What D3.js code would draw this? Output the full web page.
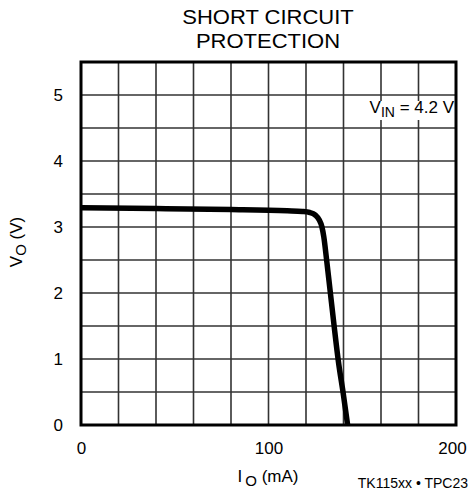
<!DOCTYPE html>
<html><head><meta charset="utf-8">
<script src="https://cdn.jsdelivr.net/npm/d3@7"></script>
<style>
html,body{margin:0;padding:0;background:#fff;}
text{font-family:"Liberation Sans",Arial,sans-serif;fill:#000;}
</style></head>
<body>
<svg id="chart" width="474" height="491"></svg>
<script>
const titleLines = ["SHORT CIRCUIT", "PROTECTION"];
const xTicks = [0, 100, 200];
const yTicks = [0, 1, 2, 3, 4, 5];
const xGrid = [20, 40, 60, 80, 100, 120, 140, 160, 180];
const yGrid = [0.5, 1, 1.5, 2, 2.5, 3, 3.5, 4, 4.5, 5];
const currentMA = [0, 40, 80, 110, 118, 122, 125, 127, 128.5, 129.5, 131, 133, 135, 137.2, 140, 142.2];
const voltageV = [3.29, 3.28, 3.265, 3.245, 3.235, 3.22, 3.18, 3.11, 3.0, 2.85, 2.5, 2.0, 1.5, 0.98, 0.45, 0];
const annotation = {main: "V", sub: "IN", rest: " = 4.2 V", x: 200, y: 5};
const footer = "TK115xx \u2022 TPC23";

const svg = d3.select("#chart");
const L = 81, R = 456, T = 62, B = 425;
const x = d3.scaleLinear().domain([0, 200]).range([L, R]);
const y = d3.scaleLinear().domain([0, 5.5]).range([B, T]);

// grid
svg.append("g").selectAll("line").data(xGrid).join("line")
  .attr("x1", d => x(d)).attr("x2", d => x(d)).attr("y1", T).attr("y2", B)
  .attr("stroke", "#333").attr("stroke-width", 1.6);
svg.append("g").selectAll("line").data(yGrid).join("line")
  .attr("x1", L).attr("x2", R).attr("y1", d => y(d)).attr("y2", d => y(d))
  .attr("stroke", "#333").attr("stroke-width", 1.6);

// annotation with white background (sits just below the 5 V grid line)
const ann = svg.append("text").attr("x", x(annotation.x) - 2).attr("y", y(annotation.y) + 18)
  .attr("text-anchor", "end").style("font-size", "17px");
ann.append("tspan").text(annotation.main);
ann.append("tspan").attr("dy", 4).style("font-size", "14px").text(annotation.sub);
ann.append("tspan").attr("dy", -4).text(annotation.rest);
const bb = ann.node().getBBox();
svg.insert("rect", "text").attr("x", bb.x - 1).attr("y", bb.y + 3).attr("width", bb.width + 1).attr("height", bb.height - 3).attr("fill", "#fff");

// curve
const line = d3.line().x((d, i) => x(currentMA[i])).y(d => y(d)).curve(d3.curveMonotoneX);
svg.append("path").datum(voltageV).attr("d", line)
  .attr("fill", "none").attr("stroke", "#000").attr("stroke-width", 5.5).attr("stroke-linejoin", "round");

// border
svg.append("rect").attr("x", L).attr("y", T).attr("width", R - L).attr("height", B - T)
  .attr("fill", "none").attr("stroke", "#000").attr("stroke-width", 3);

// axes (labels only)
const xAxis = d3.axisBottom(x).tickValues(xTicks).tickSize(0).tickPadding(17).tickFormat(d3.format("d"));
const gx = svg.append("g").attr("transform", `translate(0,${B})`).call(xAxis);
gx.select(".domain").remove();
gx.selectAll("text").style("font-size", "17px").style("font-family", '"Liberation Sans",Arial,sans-serif');
gx.selectAll(".tick").filter(d => d === 200).select("text").attr("dx", -4);

const yAxis = d3.axisLeft(y).tickValues(yTicks).tickSize(0).tickPadding(18).tickFormat(d3.format("d"));
const gy = svg.append("g").attr("transform", `translate(${L},0)`).call(yAxis);
gy.select(".domain").remove();
gy.selectAll("text").style("font-size", "17px").style("font-family", '"Liberation Sans",Arial,sans-serif');

// title
svg.append("g").selectAll("text").data(titleLines).join("text")
  .attr("transform", (d, i) => `translate(268,${24 + i * 24}) scale(1.1,1)`).attr("text-anchor", "middle")
  .style("font-size", "20px").text(d => d);

// x label
const xl = svg.append("text").attr("x", 268).attr("y", 482).attr("text-anchor", "middle").style("font-size", "17px");
xl.append("tspan").text("I");
xl.append("tspan").attr("dy", 4).attr("dx", 3).style("font-size", "15px").text("O");
xl.append("tspan").attr("dy", -4).text(" (mA)");

// y label
const yl = svg.append("text").attr("transform", "translate(22,242) rotate(-90)").attr("text-anchor", "middle").style("font-size", "17px");
yl.append("tspan").text("V");
yl.append("tspan").attr("dy", 4).style("font-size", "15px").text("O");
yl.append("tspan").attr("dy", -4).text(" (V)");

// footer
svg.append("text").attr("x", 468).attr("y", 488).attr("text-anchor", "end").style("font-size", "14px").text(footer);
</script>
</body></html>
